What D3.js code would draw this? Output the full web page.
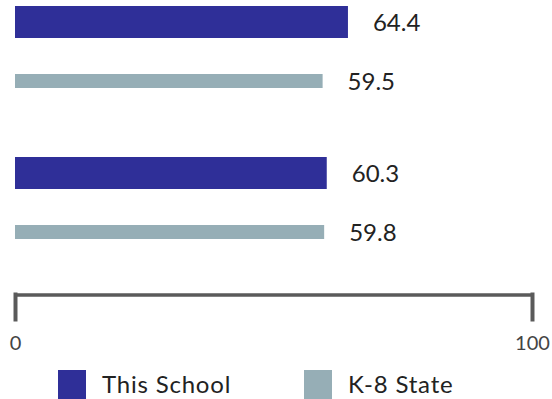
<!DOCTYPE html>
<html>
<head>
<meta charset="utf-8">
<script src="https://cdn.jsdelivr.net/npm/d3@7"></script>
<style>
  html, body { margin: 0; padding: 0; background: #fff; }
  svg { display: block; }
</style>
</head>
<body>
<svg id="chart" width="552" height="399"></svg>
<script>
// ---- data ----
const categories = ["Group 1", "Group 2"];
const seriesNames = ["This School", "K-8 State"];
const schoolValues = [64.4, 60.3];
const stateValues = [59.5, 59.8];
const tickValues = [0, 100];
const colors = ["#2f2f98", "#96aeb6"];

const svg = d3.select("#chart");
const font = "Lato, 'Open Sans', sans-serif";

const x = d3.scaleLinear().domain([0, 100]).range([15, 532]);
const y = d3.scaleBand().domain(categories).range([6, 308]).paddingInner(0).paddingOuter(0);

const barSpec = [
  { values: schoolValues, offset: 0, h: 32, color: colors[0] },
  { values: stateValues, offset: 68, h: 14, color: colors[1] }
];

barSpec.forEach(s => {
  const g = svg.append("g");
  g.selectAll("rect")
    .data(categories)
    .join("rect")
    .attr("x", x(0))
    .attr("y", (d) => y(d) + s.offset)
    .attr("width", (d, i) => x(s.values[i]) - x(0))
    .attr("height", s.h)
    .attr("fill", s.color);
  g.selectAll("text")
    .data(categories)
    .join("text")
    .attr("x", (d, i) => x(s.values[i]) + 25)
    .attr("y", (d) => y(d) + s.offset + s.h / 2)
    .attr("dy", "0.36em")
    .attr("font-family", font)
    .attr("font-size", 24)
    .attr("fill", "#222")
    .text((d, i) => s.values[i].toFixed(1));
});

// ---- axis ----
const axis = d3.axisBottom(x)
  .tickValues(tickValues)
  .tickSizeInner(25)
  .tickSizeOuter(0)
  .tickPadding(16)
  .tickFormat(d3.format("d"));

const ag = svg.append("g")
  .attr("transform", "translate(0,294.5)")
  .call(axis);
ag.select(".domain").attr("stroke", "#5a5a5a").attr("stroke-width", 3.5);
ag.selectAll(".tick line").attr("stroke", "#5a5a5a").attr("stroke-width", 4).attr("stroke-linecap", "square");
ag.selectAll(".tick text")
  .attr("font-family", font)
  .attr("font-size", 20)
  .attr("fill", "#444");

// ---- legend ----
const legendX = [58, 304];
const lg = svg.append("g");
seriesNames.forEach((name, i) => {
  lg.append("rect")
    .attr("x", legendX[i])
    .attr("y", 370)
    .attr("width", 28)
    .attr("height", 29)
    .attr("fill", colors[i]);
  lg.append("text")
    .attr("x", legendX[i] + 44)
    .attr("y", 393)
    .attr("font-family", font)
    .attr("font-size", 24)
    .attr("letter-spacing", 0.8)
    .attr("fill", "#222")
    .text(name);
});
</script>
</body>
</html>
